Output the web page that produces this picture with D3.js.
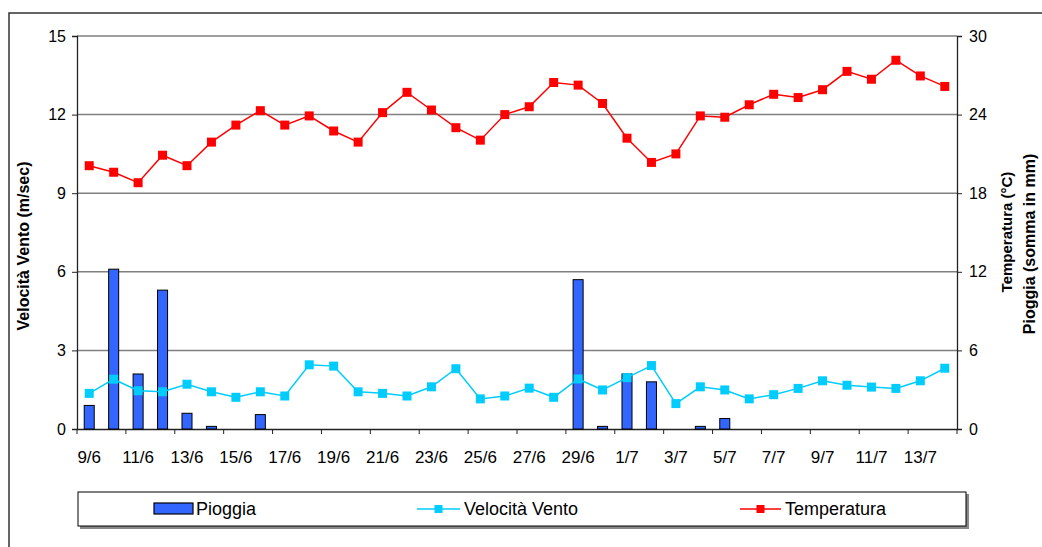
<!DOCTYPE html>
<html>
<head>
<meta charset="utf-8">
<script src="https://cdn.jsdelivr.net/npm/d3@7"></script>
<style>
  body { margin: 0; background: #fff; }
  svg { display: block; font-family: "Liberation Sans", Arial, sans-serif; }
</style>
</head>
<body>
<div id="chart"></div>
<script>
const dates = ["9/6", "10/6", "11/6", "12/6", "13/6", "14/6", "15/6", "16/6", "17/6", "18/6",
    "19/6", "20/6", "21/6", "22/6", "23/6", "24/6", "25/6", "26/6", "27/6", "28/6",
    "29/6", "30/6", "1/7", "2/7", "3/7", "4/7", "5/7", "6/7", "7/7", "8/7",
    "9/7", "10/7", "11/7", "12/7", "13/7", "14/7"];

// mm, right axis
const pioggia = [1.8, 12.2, 4.2, 10.6, 1.2, 0.2, 0, 1.1, 0, 0,
    0, 0, 0, 0, 0, 0, 0, 0, 0, 0,
    11.4, 0.2, 4.2, 3.6, 0, 0.2, 0.8, 0, 0, 0,
    0, 0, 0, 0, 0, 0];

// m/sec, left axis
const vento = [1.36, 1.9, 1.46, 1.42, 1.71, 1.42, 1.21, 1.42, 1.26, 2.45,
    2.4, 1.42, 1.36, 1.26, 1.61, 2.3, 1.15, 1.26, 1.56, 1.21,
    1.91, 1.49, 1.96, 2.42, 0.97, 1.61, 1.49, 1.15, 1.31, 1.55,
    1.84, 1.67, 1.6, 1.55, 1.84, 2.32];

// gradi C, right axis
const temperatura = [20.1, 19.6, 18.8, 20.9, 20.1, 21.9, 23.2, 24.3, 23.2, 23.9,
    22.75, 21.9, 24.15, 25.7, 24.35, 23.0, 22.05, 24.0, 24.6, 26.45,
    26.25, 24.85, 22.2, 20.35, 21.0, 23.9, 23.8, 24.75, 25.55, 25.3,
    25.9, 27.3, 26.7, 28.15, 26.95, 26.15];

const leftTicks = [0, 3, 6, 9, 12, 15];
const rightTicks = [0, 6, 12, 18, 24, 30];

const W = 1042, H = 547;
const margin = {top: 36, right: 85, bottom: 118, left: 77};
const width = W - margin.left - margin.right,
    height = H - margin.top - margin.bottom;

const svg = d3.select("#chart").append("svg")
    .attr("width", W)
    .attr("height", H);

// outer frame of the chart area
svg.append("rect")
    .attr("x", 9).attr("y", 13)
    .attr("width", W + 20).attr("height", H + 20)
    .attr("fill", "none")
    .attr("stroke", "#333")
    .attr("stroke-width", 1.5);

const g = svg.append("g")
    .attr("transform", `translate(${margin.left},${margin.top})`);

const x = d3.scaleBand().domain(dates).range([0, width]).padding(0);
const yL = d3.scaleLinear().domain([0, 15]).range([height, 0]);
const yR = d3.scaleLinear().domain([0, 30]).range([height, 0]);

// gridlines
g.selectAll(".grid")
    .data(leftTicks.filter(d => d > 0))
    .join("line")
    .attr("x1", 0).attr("x2", width)
    .attr("y1", d => yL(d)).attr("y2", d => yL(d))
    .attr("stroke", "#808080")
    .attr("stroke-width", 1.5);

// left axis
const axL = g.append("g")
    .call(d3.axisLeft(yL).tickValues(leftTicks).tickSize(5).tickPadding(6));
axL.select(".domain").attr("stroke", "#222").attr("stroke-width", 1.3);
axL.selectAll(".tick line").attr("stroke", "#222");
axL.selectAll("text").attr("font-size", 16).attr("fill", "#000")
    .attr("font-family", "Liberation Sans, Arial, sans-serif");

// right axis
const axR = g.append("g")
    .attr("transform", `translate(${width},0)`)
    .call(d3.axisRight(yR).tickValues(rightTicks).tickSize(5).tickPadding(7));
axR.select(".domain").attr("stroke", "#222").attr("stroke-width", 1.3);
axR.selectAll(".tick line").attr("stroke", "#222");
axR.selectAll("text").attr("font-size", 16).attr("fill", "#000")
    .attr("font-family", "Liberation Sans, Arial, sans-serif");

// bottom axis: labels on every other day, tick marks at band edges
const axB = g.append("g")
    .attr("transform", `translate(0,${height})`)
    .call(d3.axisBottom(x).tickValues(dates.filter((d, i) => i % 2 === 0)).tickSize(0).tickPadding(22));
axB.select(".domain").attr("stroke", "#222").attr("stroke-width", 1.5);
axB.selectAll("text").attr("font-size", 17).attr("fill", "#000")
    .attr("font-family", "Liberation Sans, Arial, sans-serif");

const edges = dates.filter((d, i) => i % 2 === 0).map(d => x(d)).concat([x.range()[1]]);
g.append("g").selectAll("line")
    .data(edges)
    .join("line")
    .attr("x1", d => d).attr("x2", d => d)
    .attr("y1", height).attr("y2", height + 5)
    .attr("stroke", "#222");

// bars
const barW = x.bandwidth() * 0.41;
g.selectAll(".bar")
    .data(pioggia.map((v, i) => ({date: dates[i], value: v})).filter(d => d.value > 0))
    .join("rect")
    .attr("x", d => x(d.date) + x.bandwidth() / 2 - barW / 2)
    .attr("y", d => yR(d.value))
    .attr("width", barW)
    .attr("height", d => height - yR(d.value))
    .attr("fill", "#3366FF")
    .attr("stroke", "#000")
    .attr("stroke-width", 1);

function drawSeries(values, scale, color, size) {
    const pts = values.map((v, i) => ({date: dates[i], value: v}));
    const line = d3.line()
        .x(d => x(d.date) + x.bandwidth() / 2)
        .y(d => scale(d.value));
    g.append("path")
        .datum(pts)
        .attr("d", line)
        .attr("fill", "none")
        .attr("stroke", color)
        .attr("stroke-width", 1.5);
    g.append("g").selectAll("rect")
        .data(pts)
        .join("rect")
        .attr("x", d => x(d.date) + x.bandwidth() / 2 - size / 2)
        .attr("y", d => scale(d.value) - size / 2)
        .attr("width", size)
        .attr("height", size)
        .attr("fill", color);
}

drawSeries(vento, yL, "#00CCFF", 9);
drawSeries(temperatura, yR, "#FF0000", 9);

// axis titles
svg.append("text")
    .attr("transform", "translate(29,246) rotate(-90)")
    .attr("text-anchor", "middle")
    .attr("font-size", 16).attr("font-weight", "bold")
    .text("Velocità Vento (m/sec)");
svg.append("text")
    .attr("transform", "translate(1012,232) rotate(-90)")
    .attr("text-anchor", "middle")
    .attr("font-size", 15).attr("font-weight", "bold")
    .text("Temperatura (°C)");
svg.append("text")
    .attr("transform", "translate(1035,244) rotate(-90)")
    .attr("text-anchor", "middle")
    .attr("font-size", 16).attr("font-weight", "bold")
    .text("Pioggia (somma in mm)");

// legend
const leg = svg.append("g");
leg.append("rect")
    .attr("x", 80).attr("y", 494).attr("width", 889).attr("height", 35)
    .attr("fill", "#888");
leg.append("rect")
    .attr("x", 78).attr("y", 492).attr("width", 888).attr("height", 34)
    .attr("fill", "#fff").attr("stroke", "#000").attr("stroke-width", 1);

leg.append("rect")
    .attr("x", 154).attr("y", 503).attr("width", 39).attr("height", 11)
    .attr("fill", "#3366FF").attr("stroke", "#000").attr("stroke-width", 1.2);
leg.append("text").attr("x", 196).attr("y", 515).attr("font-size", 18).text("Pioggia");

const legLines = [
    {x0: 417, x1: 460, color: "#00CCFF", label: "Velocità Vento"},
    {x0: 740, x1: 781, color: "#FF0000", label: "Temperatura"}
];
legLines.forEach(d => {
    leg.append("line")
        .attr("x1", d.x0).attr("x2", d.x1).attr("y1", 509).attr("y2", 509)
        .attr("stroke", d.color).attr("stroke-width", 1.5);
    leg.append("rect")
        .attr("x", (d.x0 + d.x1) / 2 - 4).attr("y", 505).attr("width", 8).attr("height", 8)
        .attr("fill", d.color);
    leg.append("text").attr("x", d.x1 + 4).attr("y", 515).attr("font-size", 18).text(d.label);
});
</script>
</body>
</html>
